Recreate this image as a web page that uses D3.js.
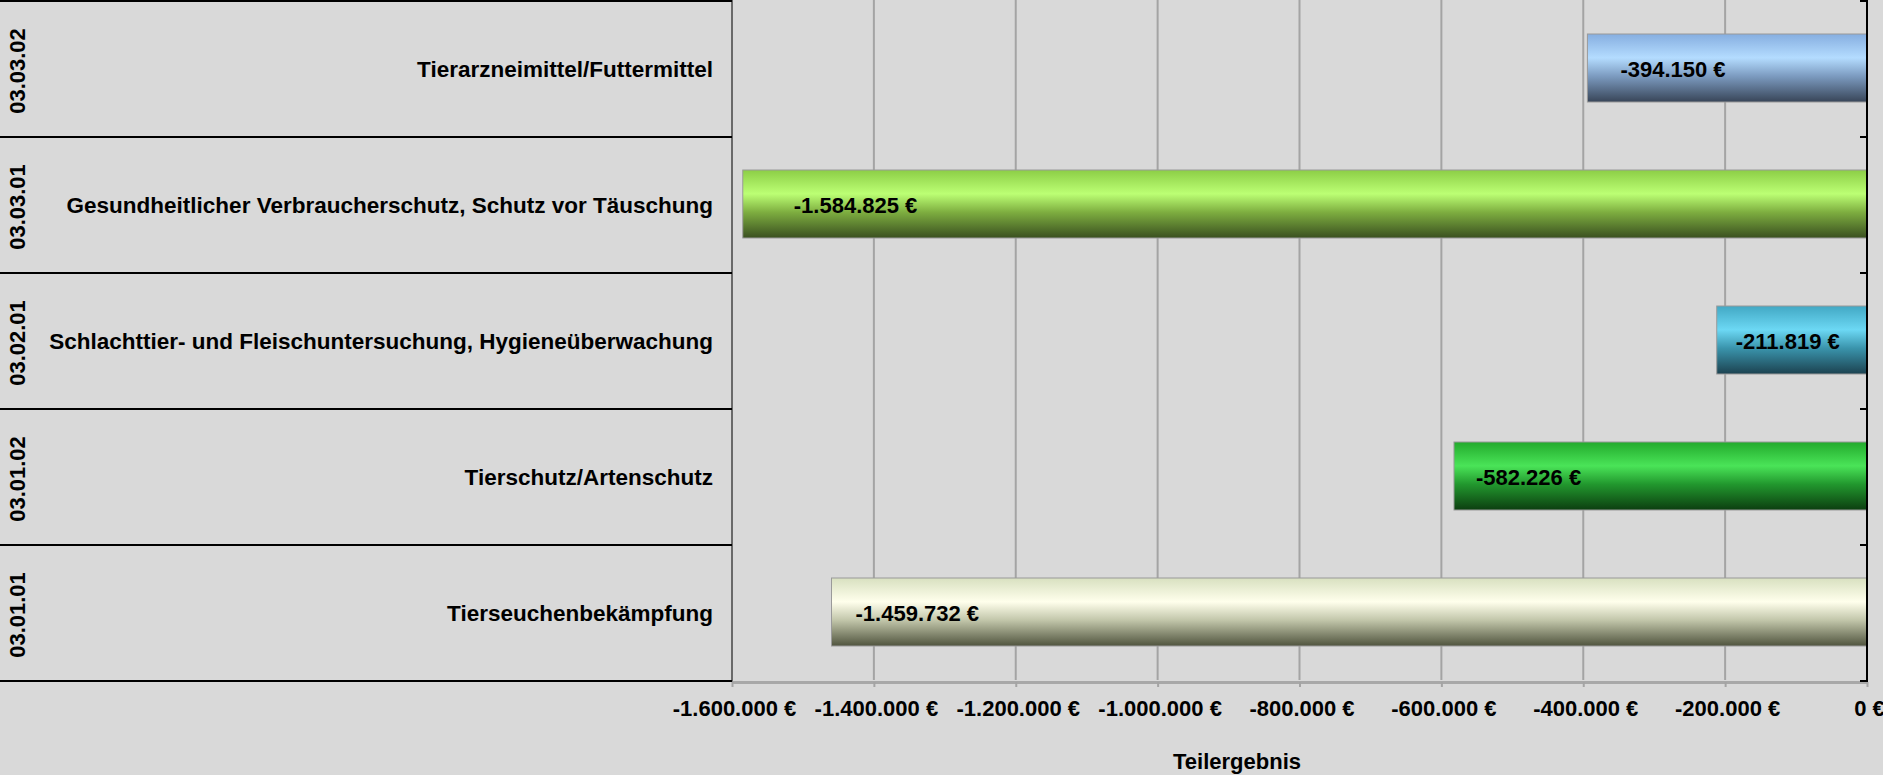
<!DOCTYPE html>
<html>
<head>
<meta charset="utf-8">
<script src="https://cdn.jsdelivr.net/npm/d3@7"></script>
<style>
  html, body { margin: 0; padding: 0; background: #d9d9d9; }
  svg { display: block; font-family: "Liberation Sans", Arial, sans-serif; font-weight: bold; }
</style>
</head>
<body>
<svg></svg>
<script>
// chart data, top row first
const codes = ["03.03.02", "03.03.01", "03.02.01", "03.01.02", "03.01.01"];
const names = [
    "Tierarzneimittel/Futtermittel",
    "Gesundheitlicher Verbraucherschutz, Schutz vor Täuschung",
    "Schlachttier- und Fleischuntersuchung, Hygieneüberwachung",
    "Tierschutz/Artenschutz",
    "Tierseuchenbekämpfung"
];
const values = [-394150, -1584825, -211819, -582226, -1459732];
const tickValues = [-1600000, -1400000, -1200000, -1000000, -800000, -600000, -400000, -200000, 0];
const axisTitle = "Teilergebnis";

// gradient stops per bar (top, highlight, mid, bottom)
const barColors = [
    ["#86aee0", "#b4dcff", "#7c9bc0", "#384558"],
    ["#8cce46", "#bcff74", "#7eae40", "#3a5020"],
    ["#42a8c4", "#6cd8f4", "#3a94ac", "#1c4250"],
    ["#22aa2c", "#4ae458", "#22982e", "#0c3e10"],
    ["#d8e0c0", "#ffffec", "#c2c6aa", "#50543e"]
];
// manual nudges of the value labels from the bar end
const labelDx = [33, 51, 19, 22, 24];

const W = 1883, H = 775;
const plotLeft = 732, plotRight = 1867, plotTop = 0, plotBottom = 680;

const de = d3.formatLocale({ decimal: ",", thousands: ".", grouping: [3], currency: ["", " €"], minus: "-" });
const fmt = de.format("$,.0f");

const svg = d3.select("svg").attr("width", W).attr("height", H);

const x = d3.scaleLinear()
    .domain([tickValues[0], tickValues[tickValues.length - 1]])
    .range([plotLeft, plotRight]);

const y = d3.scaleBand()
    .domain(codes)
    .range([plotTop, plotBottom])
    .paddingInner(0.5)
    .paddingOuter(0.25);

// gradients
const defs = svg.append("defs");
barColors.forEach((c, i) => {
    const g = defs.append("linearGradient")
        .attr("id", "grad" + i)
        .attr("x1", 0).attr("y1", 0).attr("x2", 0).attr("y2", 1);
    g.append("stop").attr("offset", "0%").attr("stop-color", c[0]);
    g.append("stop").attr("offset", "35%").attr("stop-color", c[1]);
    g.append("stop").attr("offset", "62%").attr("stop-color", c[2]);
    g.append("stop").attr("offset", "100%").attr("stop-color", c[3]);
});

// gridlines
svg.append("g")
    .selectAll("line")
    .data(tickValues.slice(1, -1))
    .join("line")
    .attr("x1", d => x(d)).attr("x2", d => x(d))
    .attr("y1", plotTop).attr("y2", plotBottom)
    .attr("stroke", "#a4a4a4")
    .attr("stroke-width", 2);

// left border of plot
svg.append("line")
    .attr("x1", plotLeft).attr("x2", plotLeft)
    .attr("y1", plotTop).attr("y2", plotBottom + 2)
    .attr("stroke", "#6a6a6a")
    .attr("stroke-width", 2);

// bottom axis
const xAxis = svg.append("g")
    .attr("transform", `translate(0, ${plotBottom + 2})`)
    .call(d3.axisBottom(x).tickValues(tickValues).tickSize(5).tickSizeOuter(0).tickFormat(fmt));
xAxis.select(".domain").attr("stroke", "#a8a8a8").attr("stroke-width", 3);
xAxis.selectAll(".tick line").attr("stroke", "#a4a4a4").attr("stroke-width", 2);
xAxis.selectAll(".tick text")
    .attr("x", 2)
    .attr("y", 34)
    .attr("dy", 0)
    .attr("fill", "#000")
    .style("font-size", "22px")
    .style("font-weight", "bold")
    .style("font-family", "'Liberation Sans', Arial, sans-serif");

// bars
const rows = codes.map((c, i) => ({ code: c, name: names[i], value: values[i], i }));

svg.append("g")
    .selectAll("rect")
    .data(rows)
    .join("rect")
    .attr("x", d => x(d.value))
    .attr("y", d => y(d.code))
    .attr("width", d => x(0) - x(d.value))
    .attr("height", y.bandwidth())
    .attr("fill", d => `url(#grad${d.i})`)
    .attr("stroke", "#9a9a9a")
    .attr("stroke-width", 1);

// value labels
svg.append("g")
    .selectAll("text")
    .data(rows)
    .join("text")
    .attr("x", d => x(d.value) + labelDx[d.i])
    .attr("y", d => y(d.code) + y.bandwidth() / 2 + 1)
    .attr("dominant-baseline", "central")
    .style("font-size", "22px")
    .text(d => fmt(d.value));

// zero axis on the right with ticks at row boundaries
const step = y.step();
const bounds = d3.range(codes.length + 1).map(k => plotTop + k * step);
svg.append("line")
    .attr("x1", x(0)).attr("x2", x(0))
    .attr("y1", plotTop).attr("y2", plotBottom + 2)
    .attr("stroke", "#000")
    .attr("stroke-width", 2);
svg.append("g")
    .selectAll("line")
    .data(bounds)
    .join("line")
    .attr("x1", x(0) - 7).attr("x2", x(0))
    .attr("y1", d => Math.min(d + 1, plotBottom + 1)).attr("y2", d => Math.min(d + 1, plotBottom + 1))
    .attr("stroke", "#000")
    .attr("stroke-width", 2);

// category area: separators, names and codes
svg.append("g")
    .selectAll("line")
    .data(bounds)
    .join("line")
    .attr("x1", 0).attr("x2", plotLeft)
    .attr("y1", d => Math.min(d + 1, plotBottom + 1)).attr("y2", d => Math.min(d + 1, plotBottom + 1))
    .attr("stroke", "#000")
    .attr("stroke-width", 2);

svg.append("g")
    .selectAll("text")
    .data(rows)
    .join("text")
    .attr("x", 713)
    .attr("y", d => y(d.code) + y.bandwidth() / 2 + 1)
    .attr("text-anchor", "end")
    .attr("dominant-baseline", "central")
    .style("font-size", "22.5px")
    .text(d => d.name);

svg.append("g")
    .selectAll("text")
    .data(rows)
    .join("text")
    .attr("transform", d => `translate(17, ${y(d.code) + y.bandwidth() / 2 + 3}) rotate(-90)`)
    .attr("text-anchor", "middle")
    .attr("dominant-baseline", "central")
    .style("font-size", "22px")
    .text(d => d.code);

// axis title
svg.append("text")
    .attr("x", 1237)
    .attr("y", 769)
    .attr("text-anchor", "middle")
    .style("font-size", "22px")
    .text(axisTitle);
</script>
</body>
</html>
